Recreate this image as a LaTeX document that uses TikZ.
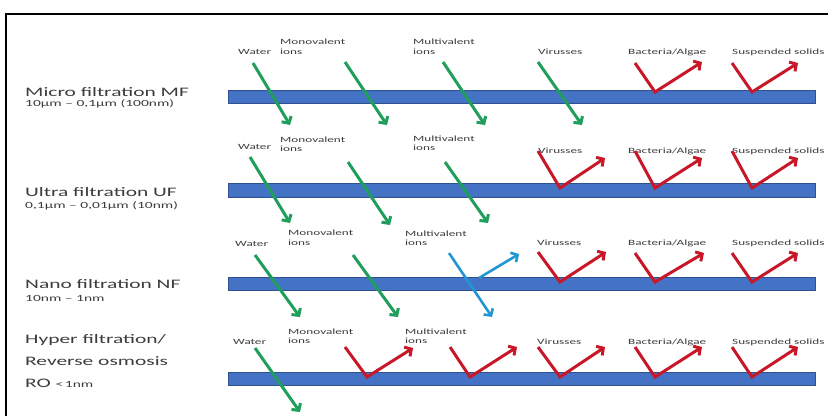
\documentclass[tikz,border=0pt]{standalone}
\usepackage{fontspec}
\setmainfont{Carlito}[FakeStretch=1.65]
\usetikzlibrary{arrows.meta}

\definecolor{barfill}{RGB}{68,114,196}
\definecolor{baredge}{RGB}{47,82,143}
\definecolor{passgreen}{RGB}{32,158,92}
\definecolor{rejectred}{RGB}{200,24,40}
\definecolor{partblue}{RGB}{34,150,212}
\definecolor{labelgray}{RGB}{60,60,60}

\begin{document}
\begin{tikzpicture}[x=1pt, y=-1pt,
    process/.style={anchor=west, inner sep=0pt, align=left, text=labelgray, font=\fontsize{13}{22}\selectfont},
    poresize/.style={anchor=west, inner sep=0pt, text=labelgray, font=\fontsize{9.4}{11}\selectfont},
    particle/.style={anchor=west, inner sep=0pt, align=left, text=labelgray, font=\fontsize{8}{9.5}\selectfont},
    membrane/.style={draw=baredge, fill=barfill, line width=0.8pt},
    flow/.style={-{Straight Barb[length=5pt,width=11pt]}, line width=3pt, line join=miter},
    pass/.style={flow, draw=passgreen},
    reject/.style={flow, draw=rejectred},
    partial/.style={flow, draw=partblue, line width=2.6pt}
]
    \useasboundingbox (0,0) rectangle (828,416);
    \draw[line width=2.5pt] (6,416) -- (6,14) -- (828,14);

    % process names
    \node[process] (mf) at (25,92) {Micro filtration MF};
    \node[poresize] (mfsize) at (25,104) {10µm – 0,1µm (100nm)};
    \node[process] (uf) at (25,192) {Ultra filtration UF};
    \node[poresize] (ufsize) at (25,206) {0,1µm – 0,01µm (10nm)};
    \node[process] (nf) at (25,284) {Nano filtration NF};
    \node[poresize] (nfsize) at (25,298) {10nm – 1nm};
    \node[process] (ro) at (25,361) {Hyper filtration/\\Reverse osmosis\\RO {\fontsize{9.4}{22}\selectfont <\,1nm}};

    % membranes
    \draw[membrane] (228,90) rectangle (815,103);
    \draw[membrane] (228,183) rectangle (815,197);
    \draw[membrane] (228,277) rectangle (815,290);
    \draw[membrane] (228,372) rectangle (815,385);

    % MF
    \node[particle] (water1) at (238,52) {Water};
    \node[particle] (mono1) at (280,46.5) {Monovalent\\ions};
    \node[particle] (multi1) at (413,46.5) {Multivalent\\ions};
    \node[particle] (virus1) at (538,52) {Virusses};
    \node[particle] (bact1) at (628,52) {Bacteria/Algae};
    \node[particle] (solid1) at (732,52) {Suspended solids};
    \draw[pass] (253,63) -- (290,125);
    \draw[pass] (345,62) -- (387,125);
    \draw[pass] (443,62) -- (485,125);
    \draw[pass] (538,62) -- (582,125);
    \draw[reject] (635,63) -- (655,92) -- (702,62);
    \draw[reject] (732,63) -- (752,92) -- (798,63);

    % UF
    \node[particle] (water2) at (238,147) {Water};
    \node[particle] (mono2) at (280,144) {Monovalent\\ions};
    \node[particle] (multi2) at (413,143) {Multivalent\\ions};
    \node[particle] (virus2) at (538,151) {Virusses};
    \node[particle] (bact2) at (628,151) {Bacteria/Algae};
    \node[particle] (solid2) at (732,151) {Suspended solids};
    \draw[pass] (250,157) -- (290,223);
    \draw[pass] (348,162) -- (390,225);
    \draw[pass] (445,162) -- (488,223);
    \draw[reject] (538,151) -- (560,188) -- (605,158);
    \draw[reject] (635,151) -- (655,188) -- (702,158);
    \draw[reject] (732,151) -- (752,188) -- (798,158);

    % NF
    \node[particle] (water3) at (235,244) {Water};
    \node[particle] (mono3) at (288,237.5) {Monovalent\\ions};
    \node[particle] (multi3) at (405,238) {Multivalent\\ions};
    \node[particle] (virus3) at (537,243) {Virusses};
    \node[particle] (bact3) at (628,243) {Bacteria/Algae};
    \node[particle] (solid3) at (732,243) {Suspended solids};
    \draw[pass] (255,255) -- (300,317);
    \draw[pass] (353,255) -- (398,317);
    \draw[partial] (449,253) -- (492,317);
    \draw[partial] (479,278) -- (519,254);
    \draw[reject] (538,252) -- (560,282) -- (606,252);
    \draw[reject] (635,253) -- (655,282) -- (704,253);
    \draw[reject] (732,253) -- (752,282) -- (798,253);

    % RO
    \node[particle] (water4) at (233,342) {Water};
    \node[particle] (mono4) at (288,336) {Monovalent\\ions};
    \node[particle] (multi4) at (405,336) {Multivalent\\ions};
    \node[particle] (virus4) at (537,342) {Virusses};
    \node[particle] (bact4) at (628,342) {Bacteria/Algae};
    \node[particle] (solid4) at (732,342) {Suspended solids};
    \draw[pass] (255,348) -- (300,412);
    \draw[reject] (345,347) -- (367,377) -- (413,348);
    \draw[reject] (450,347) -- (470,377) -- (517,347);
    \draw[reject] (538,347) -- (560,377) -- (605,347);
    \draw[reject] (635,347) -- (655,377) -- (702,347);
    \draw[reject] (732,347) -- (752,377) -- (798,347);
\end{tikzpicture}
\end{document}
